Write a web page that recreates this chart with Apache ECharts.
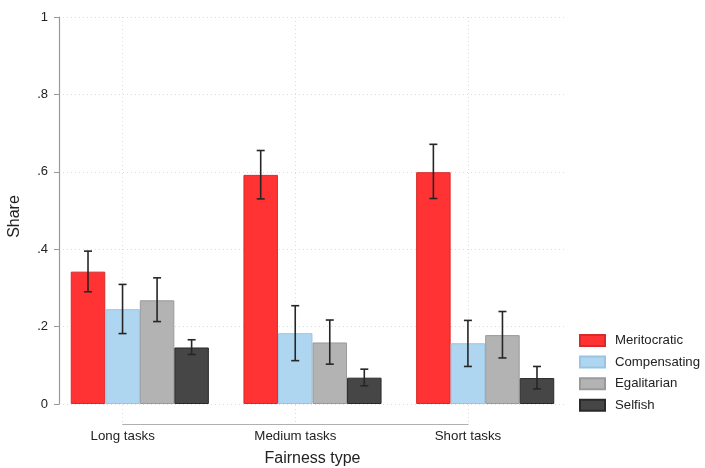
<!DOCTYPE html>
<html>
<head>
<meta charset="utf-8">
<script src="https://cdn.jsdelivr.net/npm/echarts@6/dist/echarts.min.js"></script>
<style>
html,body{margin:0;padding:0;background:#fff;}
#c{width:705px;height:468px;}
</style>
</head>
<body>
<div id="c"></div>
<script>
// ---- data ----
var categories = ['Long tasks', 'Medium tasks', 'Short tasks'];
var seriesNames = ['Meritocratic', 'Compensating', 'Egalitarian', 'Selfish'];
var meritocratic = [0.342, 0.592, 0.599];
var compensating = [0.245, 0.183, 0.157];
var egalitarian  = [0.268, 0.159, 0.178];
var selfish      = [0.146, 0.068, 0.067];
var meritocraticLow  = [0.290, 0.530, 0.531];
var meritocraticHigh = [0.395, 0.655, 0.671];
var compensatingLow  = [0.182, 0.112, 0.097];
var compensatingHigh = [0.309, 0.254, 0.216];
var egalitarianLow   = [0.213, 0.103, 0.119];
var egalitarianHigh  = [0.326, 0.217, 0.239];
var selfishLow       = [0.128, 0.047, 0.039];
var selfishHigh      = [0.166, 0.090, 0.097];
var yTicks = [0, 0.2, 0.4, 0.6, 0.8, 1];
var yTickLabels = ['0', '.2', '.4', '.6', '.8', '1'];

// ---- build ----
var values = [meritocratic, compensating, egalitarian, selfish];
var lows = [meritocraticLow, compensatingLow, egalitarianLow, selfishLow];
var highs = [meritocraticHigh, compensatingHigh, egalitarianHigh, selfishHigh];
var fills = ['#ff3333', '#aed6f1', '#b3b3b3', '#464646'];
var borders = ['#d92a2a', '#98c5e4', '#9a9a9a', '#2a2a2a'];
var FONT = 'Liberation Sans';

// x position: group g, series s -> 5*g + s - 1 (Compensating sits on the label)
function xpos(g, s) { return 5 * g + s - 1; }

var series = [];
seriesNames.forEach(function (name, s) {
  series.push({
    name: name,
    type: 'bar',
    xAxisIndex: 0, yAxisIndex: 0,
    barWidth: 34.5,
    barGap: '-100%',
    itemStyle: { color: fills[s], borderColor: borders[s], borderWidth: 1 },
    data: values[s].map(function (v, g) { return [xpos(g, s), v]; }),
    z: 2
  });
});
var errData = [];
seriesNames.forEach(function (name, s) {
  values[s].forEach(function (v, g) {
    errData.push([xpos(g, s), lows[s][g], highs[s][g]]);
  });
});
series.push({
  type: 'custom',
  xAxisIndex: 0, yAxisIndex: 0,
  z: 5,
  silent: true,
  data: errData,
  renderItem: function (params, api) {
    var x = api.value(0);
    var lo = api.coord([x, api.value(1)]);
    var hi = api.coord([x, api.value(2)]);
    var cap = 4;
    var st = { stroke: '#262626', lineWidth: 1.6 };
    return {
      type: 'group',
      children: [
        { type: 'line', shape: { x1: lo[0], y1: lo[1], x2: hi[0], y2: hi[1] }, style: st },
        { type: 'line', shape: { x1: lo[0] - cap, y1: lo[1], x2: lo[0] + cap, y2: lo[1] }, style: st },
        { type: 'line', shape: { x1: hi[0] - cap, y1: hi[1], x2: hi[0] + cap, y2: hi[1] }, style: st }
      ]
    };
  }
});

var chart = echarts.init(document.getElementById('c'), null, { renderer: 'canvas' });
chart.setOption({
  backgroundColor: '#ffffff',
  animation: false,
  textStyle: { fontFamily: FONT },
  grid: [
    { left: 59, right: 139, top: 17, bottom: 64, containLabel: false, outerBoundsMode: 'none' },
    { left: 122.7, right: 237, top: 17, bottom: 44, containLabel: false, outerBoundsMode: 'none' }
  ],
  xAxis: [
    {
      type: 'value', gridIndex: 0, min: -1.84, max: 12.84,
      axisLine: { show: false }, axisTick: { show: false },
      axisLabel: { show: false }, splitLine: { show: false },
      name: 'Fairness type', nameLocation: 'middle', nameGap: 47,
      nameTextStyle: { fontFamily: FONT, fontSize: 16, color: '#222' }
    },
    {
      type: 'value', gridIndex: 1, min: 0, max: 10, interval: 5,
      axisLine: { show: true, onZero: false, lineStyle: { color: '#b0b0b0', width: 1.2 } },
      axisTick: { show: false },
      axisLabel: {
        margin: 6, fontFamily: FONT, fontSize: 13.3, color: '#222',
        formatter: function (v) { return categories[Math.round(v / 5)] || ''; }
      },
      splitLine: { show: true, lineStyle: { color: '#dcdcdc', type: [1, 3], width: 1 } }
    }
  ],
  yAxis: [
    {
      type: 'value', gridIndex: 0, min: 0, max: 1, interval: 0.2,
      axisLine: { show: true, onZero: false, lineStyle: { color: '#999', width: 1.2 } },
      axisTick: { show: true, length: 5, lineStyle: { color: '#999' } },
      axisLabel: {
        margin: 11, fontFamily: FONT, fontSize: 13, color: '#222',
        formatter: function (v) {
          for (var i = 0; i < yTicks.length; i++) if (Math.abs(yTicks[i] - v) < 1e-6) return yTickLabels[i];
          return '';
        }
      },
      splitLine: { show: true, lineStyle: { color: '#dcdcdc', type: [1, 3], width: 1 } },
      name: 'Share', nameLocation: 'middle', nameGap: 36, nameRotate: 90,
      nameTextStyle: { fontFamily: FONT, fontSize: 16, color: '#222', padding: [0, 12, 0, 0] }
    },
    { type: 'value', gridIndex: 1, min: 0, max: 1, show: false }
  ],
  legend: {
    orient: 'vertical', left: 574, top: 329,
    itemWidth: 25, itemHeight: 11, itemGap: 8.6,
    icon: 'rect',
    data: seriesNames,
    textStyle: { fontFamily: FONT, fontSize: 13.2, color: '#222', padding: [0, 0, 0, 5] }
  },
  series: series
});
</script>
</body>
</html>
